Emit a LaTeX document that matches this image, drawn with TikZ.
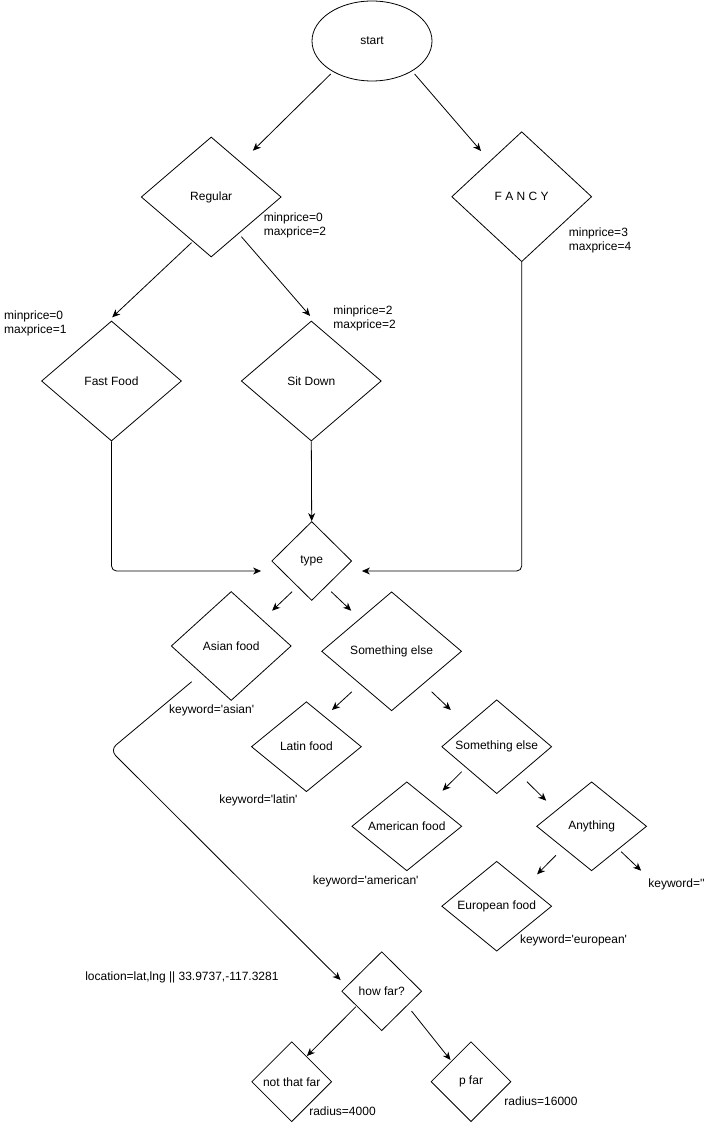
\documentclass[tikz,border=0pt]{standalone}
\usepackage{fontspec}
\newfontfamily\diafont{Liberation Sans}
\usetikzlibrary{arrows.meta, shapes.geometric}
\tikzset{
  every picture/.style={font=\diafont\fontsize{12}{14}\selectfont, line width=0.8pt},
  choice/.style={diamond, draw, inner sep=0pt, minimum width=140pt, minimum height=120pt},
  small/.style={choice, minimum width=110pt, minimum height=90pt},
  tiny/.style={choice, minimum width=80pt, minimum height=80pt},
  arrow/.style={-{Stealth[length=8pt, width=7pt, inset=2.5pt]}},
  note/.style={inner sep=0pt, align=left, anchor=west},
  label/.style={inner sep=0pt},
}
\begin{document}
\begin{tikzpicture}[x=1pt, y=-1pt]
  \useasboundingbox (0,0) rectangle (718,1123);
  % price levels
  \node[ellipse, draw, minimum width=120pt, minimum height=80pt, inner sep=0pt] (start) at (372,41) {start};
  \node[choice] (regular) at (211.2,197) {Regular};
  \node[choice, minimum height=130pt] (fancy) at (521.7,196.7) {F A N C Y};
  \node[choice] (fastfood) at (111.5,381) {Fast Food};
  \node[choice] (sitdown) at (311.3,381) {Sit Down};
  \node[note] (regprice) at (263.4,225) {minprice=0\\maxprice=2};
  \node[note] (fancyprice) at (568.5,240) {minprice=3\\maxprice=4};
  \node[note] (ffprice) at (3.7,323) {minprice=0\\maxprice=1};
  \node[note] (sdprice) at (333,318) {minprice=2\\maxprice=2};
  \draw[arrow] ([shift={(-41.3,33)}]start.center) -- ([shift={(41.7,-46.3)}]regular.center);
  \draw[arrow] ([shift={(42.6,33)}]start.center) -- ([shift={(-40.7,-45.7)}]fancy.center);
  \draw[arrow] ([shift={(-19.7,45.7)}]regular.center) -- ([shift={(0.7,-63.7)}]fastfood.center);
  \draw[arrow] ([shift={(30.2,39.7)}]regular.center) -- ([shift={(-1.2,-65)}]sitdown.center);
  % food type
  \node[tiny, minimum height=79pt] (type) at (311.7,561) {type};
  \draw[arrow, rounded corners=5pt] (fastfood.south) |- ([shift={(-50.6,10)}]type.center);
  \draw[arrow] (sitdown.south) -- (type.north);
  \draw[arrow, rounded corners=5pt] (fancy.south) |- ([shift={(50.2,10)}]type.center);
  \node[choice, minimum width=120pt, minimum height=109pt] (asian) at (231.2,646) {Asian food};
  \node[choice, minimum height=119pt] (somethinga) at (391.6,651.3) {Something else};
  \node[small] (latin) at (306.4,746.7) {Latin food};
  \node[small] (somethingb) at (496.7,746.7) {Something else};
  \node[small, minimum height=89pt] (american) at (406.8,826.3) {American food};
  \node[small, minimum height=89pt] (anything) at (591.6,826.3) {Anything};
  \node[small, minimum height=89pt] (european) at (496.7,906.2) {European food};
  \node[label] (kwasian) at (211.6,710.7) {keyword='asian'};
  \node[label] (kwlatin) at (258.4,800.7) {keyword='latin'};
  \node[label] (kwamerican) at (365.7,881) {keyword='american'};
  \node[label] (kwany) at (676.5,884) {keyword=''};
  \node[label] (kweuropean) at (573.5,940.7) {keyword='european'};
  \draw[arrow] ([shift={(-19.6,30.7)}]type.center) -- ([shift={(40.9,-35.3)}]asian.center);
  \draw[arrow] ([shift={(19.5,30.7)}]type.center) -- ([shift={(-40.4,-40.6)}]somethinga.center);
  \draw[arrow] ([shift={(-39.7,40.4)}]somethinga.center) -- ([shift={(25.6,-36.7)}]latin.center);
  \draw[arrow] ([shift={(40,40.4)}]somethinga.center) -- ([shift={(-45.9,-36.7)}]somethingb.center);
  \draw[arrow] ([shift={(-35,25)}]somethingb.center) -- ([shift={(35.7,-35.6)}]american.center);
  \draw[arrow] ([shift={(30.2,35)}]somethingb.center) -- ([shift={(-45.4,-25.6)}]anything.center);
  \draw[arrow] ([shift={(-35.7,29)}]anything.center) -- ([shift={(40.4,-31.9)}]european.center);
  \draw[arrow] ([shift={(29.6,25.4)}]anything.center) -- ([shift={(-35.4,-13.3)}]kwany.center);
  % distance
  \node[tiny, minimum height=79pt] (howfar) at (381.7,991.2) {how far?};
  \node[tiny] (notfar) at (291.7,1081.7) {not that far};
  \node[tiny] (pfar) at (471,1081.7) {p far};
  \node[label] (location) at (181.9,977.7) {location=lat,lng || 33.9737,-117.3281};
  \node[label] (rad4000) at (342.5,1110.7) {radius=4000};
  \node[label] (rad16000) at (541,1101) {radius=16000};
  \coordinate (asianbend) at (110,750);
  \draw[arrow, rounded corners=8pt] ([shift={(-39.5,35.7)}]asian.center) -- (asianbend) -- ([shift={(-41.1,-11.2)}]howfar.center);
  \draw[arrow] ([shift={(-25.8,15.5)}]howfar.center) -- ([shift={(15.2,-25.7)}]notfar.center);
  \draw[arrow] ([shift={(29.8,19.8)}]howfar.center) -- ([shift={(-20.5,-21.7)}]pfar.center);
\end{tikzpicture}
\end{document}
